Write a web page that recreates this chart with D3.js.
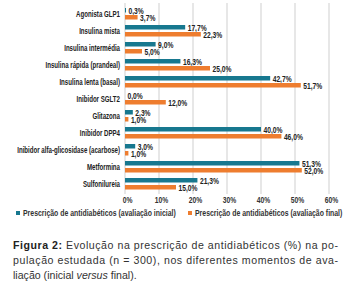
<!DOCTYPE html>
<html><head><meta charset="utf-8">
<script src="https://cdn.jsdelivr.net/npm/d3@7"></script>
<style>
body{margin:0;background:#fff;}
svg{display:block;}
</style></head>
<body>
<svg id="c" width="355" height="291"></svg>
<script>
const categories = ["Agonista GLP1","Insulina mista","Insulina intermédia","Insulina rápida (prandeal)","Insulina lenta (basal)","Inibidor SGLT2","Glitazona","Inibidor DPP4","Inibidor alfa-glicosidase (acarbose)","Metformina","Sulfonilureia"];
const inicial = [0.3,17.7,9.0,16.3,42.7,0.0,2.3,40.0,3.0,51.3,21.3];
const final = [3.7,22.3,5.0,25.0,51.7,12.0,1.0,46.0,1.0,52.0,15.0];
const ticks = [0,10,20,30,40,50,60];
const seriesNames = ["Prescrição de antidiabéticos (avaliação inicial)","Prescrição de antidiabéticos (avaliação final)"];
const colors = ["#17788f","#ee7d2f"];

const svg = d3.select("#c");
const x = d3.scaleLinear().domain([0,60]).range([125,329]);
const y = d3.scaleBand().domain(categories).range([4,191]);
const lab = "'Liberation Sans',Arial,sans-serif";

function factor(str, size, target){
  const p = svg.append("text").attr("font-family",lab).attr("font-weight","bold").attr("font-size",size).text(str);
  const w = p.node().getComputedTextLength(); p.remove();
  return target / w;
}
const kCat = factor(categories[8], "9px", 103);
const kVal = factor("17,7%", "9px", 19);
const kTick = factor("60%", "9px", 13.5);
const kLeg = factor(seriesNames[0], "8.5px", 153);

function ctext(g, px, py, str, size, k, anchor){
  return g.append("text")
    .attr("transform",`translate(${px},${py}) scale(${k},1)`)
    .attr("font-family",lab).attr("font-weight","bold")
    .attr("font-size",size).attr("fill","#222")
    .attr("dominant-baseline","central")
    .attr("text-anchor",anchor||"start")
    .text(str);
}

// gridlines
svg.append("g").selectAll("line").data(ticks).join("line")
  .attr("x1",d=>x(d)).attr("x2",d=>x(d)).attr("y1",3).attr("y2",194)
  .attr("stroke","#cfcfcf").attr("stroke-width",1);

// x axis labels
const ax = d3.axisBottom(x).tickValues(ticks).tickFormat(d=>d+"%").tickSize(0).tickPadding(0);
const gx = svg.append("g").attr("transform","translate(0,200)").call(ax);
gx.select(".domain").remove();
gx.selectAll(".tick text").remove();
gx.selectAll(".tick").each(function(d){
  ctext(d3.select(this), 2, 0, d+"%", "9px", kTick, "middle").attr("fill","#333");
});

// category labels
const gc = svg.append("g");
categories.forEach(c=>{ ctext(gc, 120, y(c)+4+5.75, c, "9px", kCat, "end"); });

const series = [inicial, final];
const offs = [4,11];
series.forEach((vals,si)=>{
  const g = svg.append("g");
  g.selectAll("rect").data(vals).join("rect")
    .attr("x",x(0)).attr("y",(d,i)=>y(categories[i])+offs[si])
    .attr("width",d=>x(d)-x(0)).attr("height",4.5).attr("fill",colors[si]);
  vals.forEach((d,i)=>{
    ctext(g, x(d)+2.5, y(categories[i])+offs[si]+2.8, d.toFixed(1).replace(".",",")+"%", "9px", kVal);
  });
});

// legend
const lx = [16,188];
const gl = svg.append("g");
seriesNames.forEach((n,i)=>{
  gl.append("rect").attr("x",lx[i]).attr("y",211).attr("width",4).attr("height",4).attr("fill",colors[i]);
  ctext(gl, lx[i]+7, 213.3, n, "8.5px", kLeg).attr("fill","#333");
});

// caption
const cap = svg.append("g").attr("font-family","'Liberation Sans',Arial,sans-serif").attr("font-size","10.6px").attr("fill","#333");
const t1 = cap.append("text").attr("x",13).attr("y",249).attr("textLength",325).attr("lengthAdjust","spacing");
t1.append("tspan").attr("font-weight","bold").attr("fill","#222").text("Figura 2:");
t1.append("tspan").text(" Evolução na prescrição de antidiabéticos (%) na po-");
cap.append("text").attr("x",13).attr("y",264).attr("textLength",325).attr("lengthAdjust","spacing")
  .text("pulação estudada (n = 300), nos diferentes momentos de ava-");
const t3 = cap.append("text").attr("x",13).attr("y",279);
t3.append("tspan").text("liação (inicial ");
t3.append("tspan").attr("font-style","italic").text("versus");
t3.append("tspan").text(" final).");
</script>
</body></html>
